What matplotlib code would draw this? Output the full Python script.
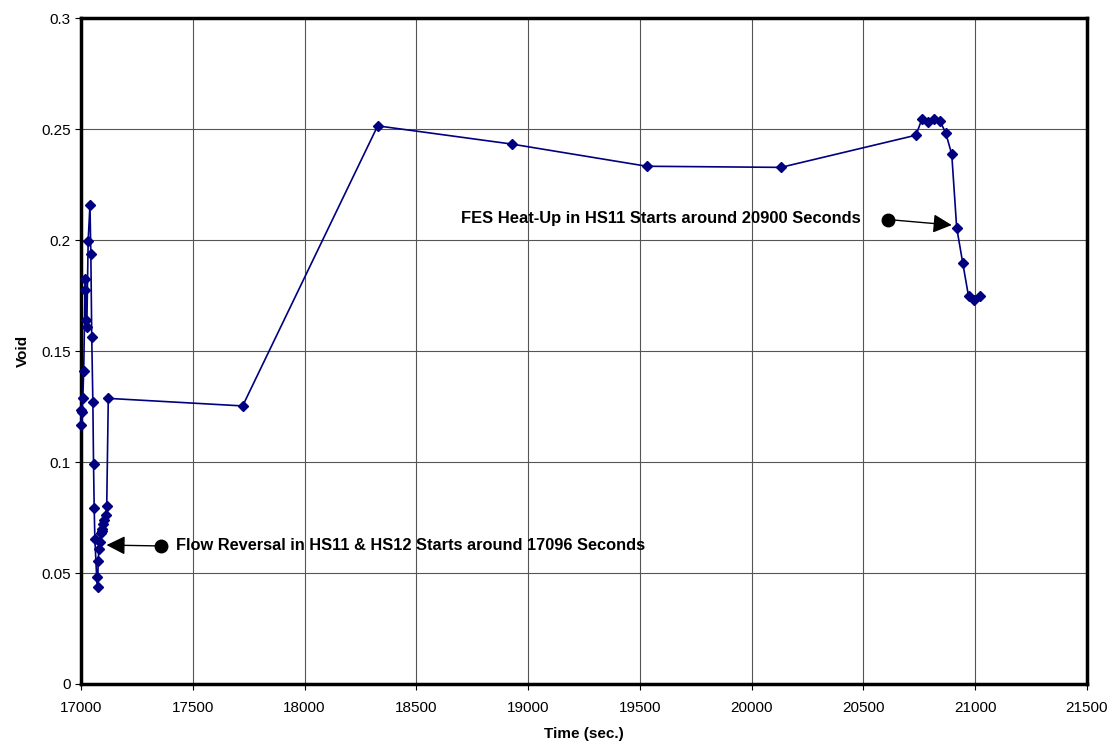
import matplotlib.pyplot as plt

plt.rcParams['font.family'] = ['Liberation Sans', 'DejaVu Sans']

# void fraction history
time_s = [17000, 17002, 17005, 17008, 17012, 17018, 17020, 17022, 17026, 17032,
          17040, 17044, 17048, 17053, 17056, 17059, 17062, 17070, 17074, 17077,
          17080, 17084, 17088, 17092, 17096, 17100, 17104, 17110, 17115, 17122,
          17723, 18327, 18927, 19531, 20131, 20735, 20761, 20788, 20817, 20843,
          20868, 20895, 20917, 20944, 20970, 20995, 21022]
void = [0.1234, 0.1167, 0.1227, 0.1287, 0.1410, 0.1775, 0.1823, 0.1640, 0.1607, 0.1997,
        0.2158, 0.1936, 0.1562, 0.1269, 0.0991, 0.0791, 0.0652, 0.0483, 0.0436, 0.0555,
        0.0610, 0.0640, 0.0680, 0.0700, 0.0690, 0.0720, 0.0740, 0.0761, 0.0802, 0.1287,
        0.1253, 0.2515, 0.2433, 0.2333, 0.2328, 0.2473, 0.2544, 0.2533, 0.2548, 0.2536,
        0.2483, 0.2387, 0.2057, 0.1898, 0.1748, 0.1730, 0.1748]

notes = ["Flow Reversal in HS11 & HS12 Starts around 17096 Seconds",
         "FES Heat-Up in HS11 Starts around 20900 Seconds"]
note_dot = [(17356, 0.0622), (20609, 0.2093)]
note_tip = [(17114, 0.0626), (20895, 0.2068)]

fig = plt.figure(figsize=(11.19, 7.48), dpi=100)
ax = fig.add_axes([0.0724, 0.0856, 0.899, 0.890])

ax.plot(time_s, void, color='#000080', lw=1.2, marker='D', ms=5,
        mfc='#000080', mec='#000080', zorder=3, clip_on=False)

ax.set_xlim(17000, 21500)
ax.set_ylim(0, 0.3)
ax.set_xticks(range(17000, 21501, 500))
ax.set_yticks([0, 0.05, 0.1, 0.15, 0.2, 0.25, 0.3])
ax.set_yticklabels(['0', '0.05', '0.1', '0.15', '0.2', '0.25', '0.3'])
ax.grid(True, color='#555555', lw=0.8)
ax.set_axisbelow(True)
for s in ax.spines.values():
    s.set_linewidth(2.5)
ax.tick_params(labelsize=11, length=4, width=0.8)
ax.tick_params(axis='x', pad=8)

ax.set_xlabel('Time (sec.)', fontsize=11, fontweight='bold', labelpad=9)
ax.set_ylabel('Void', fontsize=11, fontweight='bold', labelpad=8)

arrow = dict(arrowstyle='-|>,head_length=0.6,head_width=0.3', color='black',
             lw=1, mutation_scale=19, shrinkA=0, shrinkB=0)

# first note: text to the right of dot
ax.plot(*note_dot[0], 'o', color='black', ms=9, zorder=4)
ax.annotate('', xy=note_tip[0], xytext=note_dot[0], arrowprops=arrow)
ax.text(note_dot[0][0] + 70, note_dot[0][1], notes[0], fontsize=11.8,
        fontweight='bold', va='center', ha='left')

# second note: text to the left of dot
ax.plot(*note_dot[1], 'o', color='black', ms=9, zorder=4)
ax.annotate('', xy=note_tip[1], xytext=note_dot[1], arrowprops=arrow)
ax.text(note_dot[1][0] - 120, note_dot[1][1] + 0.0005, notes[1], fontsize=11.9,
        fontweight='bold', va='center', ha='right')

fig.savefig('out.png', dpi=100)
